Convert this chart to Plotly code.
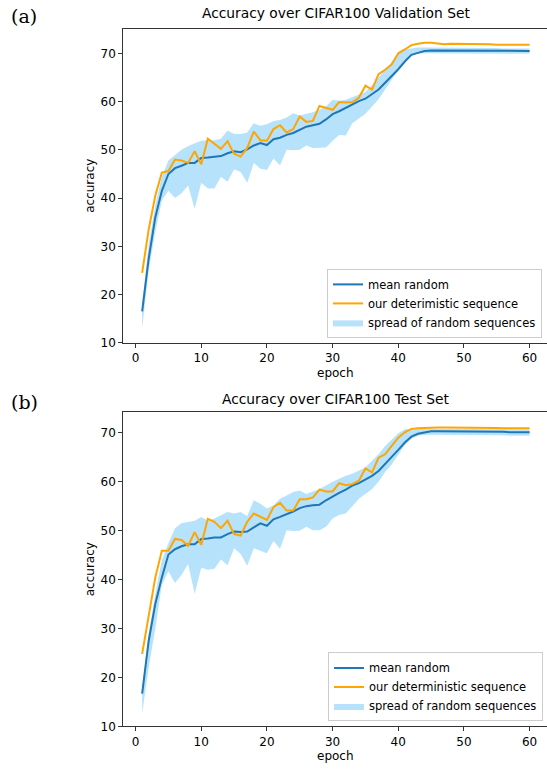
import plotly.graph_objects as go

W, H = 547, 770
epochs = list(range(1, 61))

# ---------- (a) Validation ----------
val_mean = [16.5, 27.5, 36.0, 41.5, 45.0, 46.2, 46.7, 47.3, 47.3, 48.3,
            48.4, 48.5, 48.7, 49.3, 49.7, 49.5, 50.1, 50.9, 51.4, 51.0,
            52.2, 52.5, 53.1, 53.5, 54.2, 54.8, 55.1, 55.4, 56.3, 57.4,
            58.0, 58.7, 59.4, 60.1, 60.6, 61.5, 62.5, 63.9, 65.2, 66.7,
            68.3, 69.7, 70.1, 70.5, 70.6, 70.6, 70.6, 70.6, 70.6, 70.6,
            70.6, 70.6, 70.6, 70.6, 70.6, 70.6, 70.6, 70.5, 70.5, 70.5]
val_det = [24.5, 33.5, 40.5, 45.3, 45.6, 48.0, 47.8, 47.3, 49.7, 47.0,
           52.3, 51.2, 50.2, 51.8, 49.2, 48.6, 50.4, 53.8, 52.0, 51.9,
           54.3, 55.1, 53.6, 54.3, 56.9, 55.8, 56.0, 59.1, 58.7, 58.3,
           59.9, 59.8, 59.9, 60.8, 63.3, 62.5, 65.7, 66.6, 67.7, 70.0,
           70.8, 71.7, 72.0, 72.2, 72.2, 72.1, 71.9, 72.0, 72.0, 71.9,
           71.9, 71.9, 71.9, 71.9, 71.8, 71.8, 71.8, 71.8, 71.8, 71.8]
val_upper = [18.0, 30.5, 38.5, 44.5, 47.8, 49.0, 50.0, 50.8, 51.4, 51.9,
             52.0, 52.0, 52.3, 54.0, 53.3, 53.3, 53.6, 55.5, 55.0, 55.3,
             56.0, 56.2, 56.7, 57.6, 57.1, 57.4, 57.8, 58.3, 59.0, 60.4,
             60.2, 60.4, 60.9, 61.4, 62.0, 63.4, 65.1, 66.6, 68.2, 70.0,
             70.8, 71.0, 71.2, 71.2, 71.2, 71.2, 71.2, 71.2, 71.1, 71.1,
             71.1, 71.1, 71.1, 71.1, 71.1, 71.0, 71.0, 71.0, 71.0, 71.0]
val_lower = [13.0, 25.0, 33.0, 39.5, 41.5, 40.0, 41.0, 42.6, 37.8, 43.2,
             42.0, 42.0, 44.4, 43.4, 46.0, 45.4, 43.2, 47.3, 46.1, 45.8,
             48.2, 46.8, 50.0, 49.9, 50.0, 50.9, 50.4, 50.5, 50.5, 51.9,
             53.1, 53.0, 55.5, 56.5, 57.5, 59.0, 60.5, 62.5, 64.5, 66.5,
             68.5, 69.5, 70.0, 70.0, 70.0, 70.0, 70.0, 70.0, 70.0, 70.0,
             70.0, 70.0, 70.0, 70.0, 69.9, 69.9, 69.9, 69.9, 69.9, 69.9]

# ---------- (b) Test ----------
test_mean = [16.7, 27.5, 35.0, 40.4, 45.1, 46.2, 46.8, 47.2, 47.2, 48.3,
             48.4, 48.6, 48.6, 49.3, 49.8, 49.7, 49.8, 50.6, 51.5, 51.0,
             52.3, 52.8, 53.3, 53.9, 54.6, 55.0, 55.2, 55.3, 56.2, 57.0,
             57.7, 58.4, 59.2, 59.7, 60.4, 61.2, 62.2, 63.6, 64.9, 66.5,
             68.0, 69.2, 69.8, 70.1, 70.3, 70.3, 70.3, 70.3, 70.3, 70.3,
             70.2, 70.2, 70.2, 70.2, 70.2, 70.2, 70.1, 70.1, 70.1, 70.1]
test_det = [24.8, 32.9, 40.4, 45.9, 45.9, 48.3, 48.1, 46.9, 49.7, 47.1,
            52.4, 51.8, 50.5, 52.0, 49.3, 49.0, 51.8, 53.5, 52.8, 52.2,
            54.8, 55.7, 54.1, 54.1, 56.4, 56.4, 56.8, 58.4, 58.0, 58.0,
            59.7, 59.3, 59.5, 60.2, 62.7, 61.9, 64.9, 65.6, 67.3, 69.0,
            70.1, 70.8, 70.9, 71.0, 71.1, 71.1, 71.1, 71.1, 71.1, 71.1,
            71.0, 71.0, 71.0, 71.0, 71.0, 70.9, 70.9, 70.9, 70.9, 70.9]
test_upper = [18.0, 29.0, 37.0, 44.0, 47.4, 50.5, 51.5, 51.7, 52.0, 52.8,
              52.0, 52.5, 53.2, 53.8, 53.5, 53.8, 53.0, 56.2, 55.5, 54.5,
              55.2, 56.5, 57.2, 57.9, 58.2, 57.5, 58.0, 58.5, 59.2, 60.0,
              60.6, 61.2, 61.6, 62.3, 62.9, 64.3, 65.6, 67.3, 68.7, 69.9,
              70.7, 70.8, 70.8, 70.8, 70.8, 70.8, 70.8, 70.8, 70.8, 70.8,
              70.8, 70.8, 70.8, 70.8, 70.7, 70.7, 70.7, 70.7, 70.7, 70.7]
test_lower = [12.7, 22.0, 30.0, 39.0, 41.7, 39.3, 41.0, 43.2, 37.1, 42.4,
              42.0, 42.2, 44.1, 42.9, 46.4, 45.2, 42.8, 46.4, 45.9, 45.4,
              47.9, 46.3, 50.1, 49.9, 50.0, 50.8, 50.1, 50.1, 50.8, 52.5,
              53.2, 53.5, 55.0, 56.5, 57.5, 58.5, 60.0, 62.0, 63.5, 65.5,
              67.5, 68.8, 69.4, 69.6, 69.6, 69.6, 69.6, 69.6, 69.6, 69.6,
              69.6, 69.6, 69.5, 69.5, 69.5, 69.5, 69.4, 69.4, 69.4, 69.4]

panels = [
    dict(label="(a)", title="Accuracy over CIFAR100 Validation Set",
         mean=val_mean, det=val_det, upper=val_upper, lower=val_lower,
         det_name="our deterimistic sequence"),
    dict(label="(b)", title="Accuracy over CIFAR100 Test Set",
         mean=test_mean, det=test_det, upper=test_upper, lower=test_lower,
         det_name="our deterministic sequence"),
]

FONT = "DejaVu Sans"
BLUE = "#1f77b4"
ORANGE = "#ffa500"
FILL = "rgba(135,206,250,0.6)"

def px(x):
    return x / W

def py(y):
    return 1 - y / H

# pixel geometry of the two axes boxes
boxes = [dict(top=29, bottom=346, yr=[10.0, 75.1], title_y=13, label_y=16, epoch_y=376),
         dict(top=416, bottom=733, yr=[10.0, 74.2], title_y=403, label_y=406, epoch_y=763)]
left_px = 123.3
xr = [-1.87, 62.65]

fig = go.Figure()
annotations = []
for i, (p, b) in enumerate(zip(panels, boxes)):
    xa = "x" if i == 0 else "x2"
    ya = "y" if i == 0 else "y2"
    lg = "legend" if i == 0 else "legend2"
    fig.add_trace(go.Scatter(x=epochs, y=p["lower"], xaxis=xa, yaxis=ya,
                             mode="lines", line=dict(width=0, color=FILL),
                             showlegend=False, hoverinfo="skip", legend=lg))
    fig.add_trace(go.Scatter(x=epochs, y=p["upper"], xaxis=xa, yaxis=ya,
                             mode="lines", line=dict(width=0, color=FILL),
                             fill="tonexty", fillcolor=FILL,
                             name="spread of random sequences", legendrank=3,
                             legend=lg))
    fig.add_trace(go.Scatter(x=epochs, y=p["mean"], xaxis=xa, yaxis=ya,
                             mode="lines", line=dict(width=2, color=BLUE),
                             name="mean random", legendrank=1, legend=lg))
    fig.add_trace(go.Scatter(x=epochs, y=p["det"], xaxis=xa, yaxis=ya,
                             mode="lines", line=dict(width=2, color=ORANGE),
                             name=p["det_name"], legendrank=2, legend=lg))

    annotations += [
        dict(text=p["title"], x=px(335.5), y=py(b["title_y"]), xref="paper", yref="paper",
             showarrow=False, xanchor="center", yanchor="middle",
             font=dict(family=FONT, size=13.8, color="#000")),
        dict(text=p["label"], x=px(9), y=py(b["label_y"]), xref="paper", yref="paper",
             showarrow=False, xanchor="left", yanchor="middle",
             font=dict(family="DejaVu Serif", size=19, color="#000")),
        dict(text="epoch", x=px(335.5), y=py(b["epoch_y"]), xref="paper", yref="paper",
             showarrow=False, xanchor="center", yanchor="middle",
             font=dict(family=FONT, size=12, color="#000")),
        dict(text="accuracy", x=px(90), y=py((b["top"] + b["bottom"]) / 2), xref="paper",
             yref="paper", showarrow=False, xanchor="center", yanchor="middle",
             textangle=-90, font=dict(family=FONT, size=12, color="#000")),
    ]

axis_common = dict(showgrid=False, zeroline=False, showline=True, linecolor="#333",
                   linewidth=1, ticks="outside", ticklen=4, tickcolor="#333",
                   tickfont=dict(family=FONT, size=12, color="#000"))

legend_common = dict(xanchor="right", yanchor="bottom", traceorder="normal",
                     bgcolor="rgba(255,255,255,0.8)", bordercolor="#cccccc", borderwidth=1,
                     itemwidth=30, font=dict(family=FONT, size=11.5, color="#000"),
                     tracegroupgap=0)

layout = dict(
    width=W, height=H, margin=dict(l=0, r=0, t=0, b=0),
    paper_bgcolor="white", plot_bgcolor="white", annotations=annotations,
    xaxis=dict(domain=[px(left_px), 1.0], range=xr, anchor="y", mirror=True,
               tickvals=[0, 10, 20, 30, 40, 50, 60], **axis_common),
    yaxis=dict(domain=[py(boxes[0]["bottom"]), py(boxes[0]["top"])], range=boxes[0]["yr"],
               anchor="x", tickvals=[10, 20, 30, 40, 50, 60, 70], **axis_common),
    xaxis2=dict(domain=[px(left_px), 1.0], range=xr, anchor="y2", mirror=True,
                tickvals=[0, 10, 20, 30, 40, 50, 60], **axis_common),
    yaxis2=dict(domain=[py(boxes[1]["bottom"]), py(boxes[1]["top"])], range=boxes[1]["yr"],
                anchor="x2", tickvals=[10, 20, 30, 40, 50, 60, 70], **axis_common),
    legend=dict(x=px(542), y=py(341), **legend_common),
    legend2=dict(x=px(543), y=py(728), **legend_common),
)
fig.update_layout(**layout)
# remove the browser's default 8px body margin so the figure fills the window exactly
fig.write_html("out.html",
               config={"displayModeBar": False},
               post_script="document.body.style.margin='0';document.body.style.overflow='hidden';")
